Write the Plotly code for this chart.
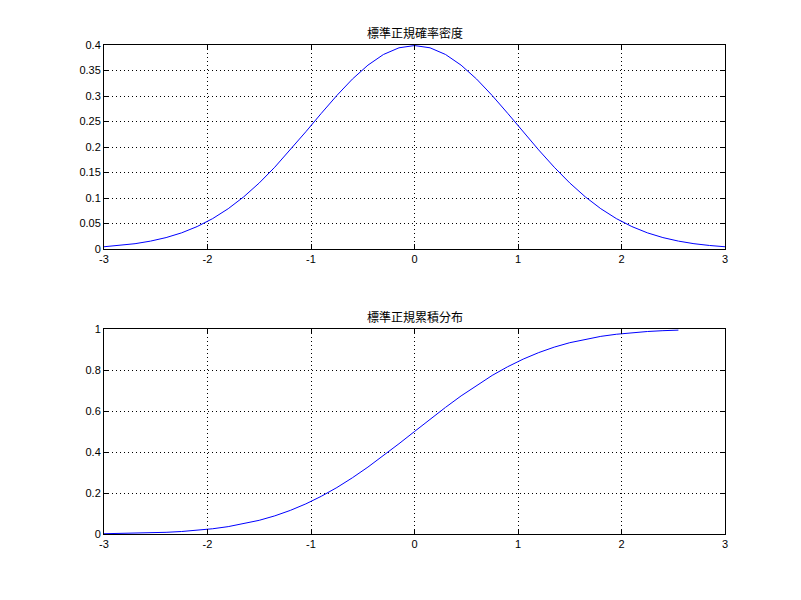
import plotly.graph_objects as go

# x samples
x_pdf = [-3.0, -2.85, -2.7, -2.55, -2.4, -2.25, -2.1, -1.95, -1.8, -1.65, -1.5, -1.35, -1.2, -1.05,
         -0.9, -0.75, -0.6, -0.45, -0.3, -0.15, 0.0, 0.15, 0.3, 0.45, 0.6, 0.75, 0.9, 1.05, 1.2,
         1.35, 1.5, 1.65, 1.8, 1.95, 2.1, 2.25, 2.4, 2.55, 2.7, 2.85, 3.0]
y_pdf = [0.0044, 0.0069, 0.0104, 0.0155, 0.0224, 0.0317, 0.0440, 0.0596, 0.0790, 0.1023, 0.1295,
         0.1604, 0.1942, 0.2299, 0.2661, 0.3011, 0.3332, 0.3605, 0.3814, 0.3945, 0.3989, 0.3945,
         0.3814, 0.3605, 0.3332, 0.3011, 0.2661, 0.2299, 0.1942, 0.1604, 0.1295, 0.1023, 0.0790,
         0.0596, 0.0440, 0.0317, 0.0224, 0.0155, 0.0104, 0.0069, 0.0044]

x_cdf = [-3.0, -2.85, -2.7, -2.55, -2.4, -2.25, -2.1, -1.95, -1.8, -1.65, -1.5, -1.35, -1.2, -1.05,
         -0.9, -0.75, -0.6, -0.45, -0.3, -0.15, 0.0, 0.15, 0.3, 0.45, 0.6, 0.75, 0.9, 1.05, 1.2,
         1.35, 1.5, 1.65, 1.8, 1.95, 2.1, 2.25, 2.4, 2.55]
y_cdf = [0.0013, 0.0022, 0.0035, 0.0054, 0.0082, 0.0122, 0.0179, 0.0256, 0.0359, 0.0495, 0.0668,
         0.0885, 0.1151, 0.1469, 0.1841, 0.2266, 0.2743, 0.3264, 0.3821, 0.4404, 0.5, 0.5596,
         0.6179, 0.6736, 0.7257, 0.7734, 0.8159, 0.8531, 0.8849, 0.9115, 0.9332, 0.9505, 0.9641,
         0.9744, 0.9821, 0.9878, 0.9918, 0.9946]

titles = ["標準正規確率密度", "標準正規累積分布"]
x_ticks = [-3, -2, -1, 0, 1, 2, 3]
x_ticktext = ["-3", "-2", "-1", "0", "1", "2", "3"]
y_ticks_pdf = [0, 0.05, 0.1, 0.15, 0.2, 0.25, 0.3, 0.35, 0.4]
y_ticktext_pdf = ["0", "0.05", "0.1", "0.15", "0.2", "0.25", "0.3", "0.35", "0.4"]
y_ticks_cdf = [0, 0.2, 0.4, 0.6, 0.8, 1]
y_ticktext_cdf = ["0", "0.2", "0.4", "0.6", "0.8", "1"]

fig = go.Figure()
fig.add_trace(go.Scatter(x=x_pdf, y=y_pdf, mode="lines", line=dict(color="#0000ff", width=1),
                         xaxis="x", yaxis="y", showlegend=False, cliponaxis=False))
fig.add_trace(go.Scatter(x=x_cdf, y=y_cdf, mode="lines", line=dict(color="#0000ff", width=1),
                         xaxis="x2", yaxis="y2", showlegend=False, cliponaxis=False))

tick_font = dict(family="Liberation Sans, Arial, sans-serif", size=11, color="black")
common = dict(showline=True, linecolor="black", linewidth=1, mirror="ticks", ticks="inside",
              ticklen=5, tickcolor="black", showgrid=True, gridcolor="black", griddash="1px,3px",
              gridwidth=1, zeroline=False, tickfont=tick_font, automargin=False)

xd = [104/801, 725/801]
fig.update_layout(
    width=801, height=600,
    paper_bgcolor="white", plot_bgcolor="white",
    margin=dict(l=0, r=0, t=0, b=0),
    xaxis=dict(domain=xd, range=[-3, 3], tickvals=x_ticks, ticktext=x_ticktext, anchor="y", **common),
    yaxis=dict(domain=[1-249/600, 1-45/600], range=[0, 0.4], tickvals=y_ticks_pdf,
               ticktext=y_ticktext_pdf, anchor="x", **common),
    xaxis2=dict(domain=xd, range=[-3, 3], tickvals=x_ticks, ticktext=x_ticktext, anchor="y2", **common),
    yaxis2=dict(domain=[1-534/600, 1-329/600], range=[0, 1], tickvals=y_ticks_cdf,
                ticktext=y_ticktext_cdf, anchor="x2", **common),
    annotations=[
        dict(text=titles[0], x=0.5, xref="x domain", y=1, yref="y domain", yanchor="bottom",
             yshift=2, showarrow=False,
             font=dict(family="Noto Sans CJK JP", size=12, color="black")),
        dict(text=titles[1], x=0.5, xref="x2 domain", y=1, yref="y2 domain", yanchor="bottom",
             yshift=2, showarrow=False,
             font=dict(family="Noto Sans CJK JP", size=12, color="black")),
    ],
)

fig.write_html("out.html", config={"displayModeBar": False},
               post_script="document.body.style.margin='0';document.body.style.overflow='hidden';")
